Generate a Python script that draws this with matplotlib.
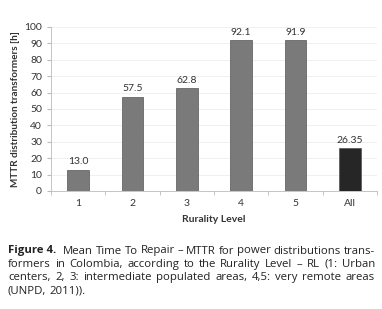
import matplotlib
matplotlib.use('Agg')
import matplotlib.pyplot as plt
import numpy as np

categories = ['1', '2', '3', '4', '5', 'All']
mttr = [13.0, 57.5, 62.8, 92.1, 91.9, 26.35]
value_labels = ['13.0', '57.5', '62.8', '92.1', '91.9', '26.35']
bar_colors = ['#7a7a7a'] * 5 + ['#262626']

caption_lines = [
    'Mean Time To Repair \u2013 MTTR for power distributions trans-',
    'formers in Colombia, according to the Rurality Level \u2013 RL (1: Urban',
    'centers, 2, 3: intermediate populated areas, 4,5: very remote areas',
    '(UNPD, 2011)).',
]

plt.rcParams['font.family'] = ['Lato', 'DejaVu Sans']

fig = plt.figure(figsize=(3.82, 3.09), dpi=100)
ax = fig.add_axes([51 / 382, 1 - 191 / 309, 326 / 382, 164 / 309])

x = np.arange(len(categories))
ax.bar(x, mttr, width=0.4, color=bar_colors, edgecolor='#555555', linewidth=0.5, zorder=3)
for xi, v, lab in zip(x, mttr, value_labels):
    ax.text(xi, v + 2, lab, ha='center', va='bottom', fontsize=7.5, color='#333333')

ax.set_xlim(-0.5, len(categories) - 0.5)
ax.set_ylim(0, 100)
ax.set_yticks(range(0, 101, 10))
ax.set_xticks(x)
ax.set_xticklabels(categories)
ax.set_xticks(np.arange(-0.5, len(categories), 1), minor=True)
ax.tick_params(axis='x', which='major', length=0, labelsize=7.5, colors='#333333', pad=6)
ax.tick_params(axis='x', which='minor', length=3, color='#bbbbbb')
ax.tick_params(axis='y', length=3, color='#bbbbbb', labelsize=7.5, colors='#333333')
ax.grid(axis='y', color='#eeeeee', linewidth=0.6, zorder=0)
for s in ['top', 'right']:
    ax.spines[s].set_visible(False)
for s in ['left', 'bottom']:
    ax.spines[s].set_color('#bbbbbb')
    ax.spines[s].set_linewidth(0.6)

ax.set_xlabel('Rurality Level', fontsize=7.5, fontweight='bold', color='#333333', labelpad=5)
ax.set_ylabel('MTTR distribution transformers [h]', fontsize=7.2, fontweight='bold', color='#333333', labelpad=3)

# caption, justified word by word
renderer = fig.canvas.get_renderer()
left, right = 8, 375
cap_font = ['Open Sans', 'DejaVu Sans']
extra = 4


def line_items(i, line):
    items = [('Figure 4.', 'bold')] if i == 0 else []
    return items + [(w, 'normal') for w in line.split(' ')]


def word_width(word, fw, size):
    t = fig.text(0, 0, word, fontsize=size, fontweight=fw, family=cap_font)
    w = t.get_window_extent(renderer).width
    t.remove()
    return w


# largest font size at which every full line still fits with near-normal spaces
size = 9.0
while size > 6:
    natural = size * 100 / 72 * 0.26
    ok = True
    for i, line in enumerate(caption_lines[:-1]):
        items = line_items(i, line)
        total = sum(word_width(w, fw, size) for w, fw in items)
        total += (extra if i == 0 else 0) + natural * 0.9 * (len(items) - 1)
        if total > right - left:
            ok = False
            break
    if ok:
        break
    size -= 0.1

natural = size * 100 / 72 * 0.26
for i, line in enumerate(caption_lines):
    y = 1 - (251 + i * 13.4) / 309
    items = line_items(i, line)
    widths = [word_width(w, fw, size) for w, fw in items]
    ex = extra if i == 0 else 0
    if i == len(caption_lines) - 1:
        gap = natural
    else:
        gap = (right - left - ex - sum(widths)) / (len(items) - 1)
    xpos = left
    for j, ((w, fw), wd) in enumerate(zip(items, widths)):
        fig.text(xpos / 382, y, w, fontsize=size, fontweight=fw, family=cap_font,
                 color='#222222', va='center', ha='left')
        xpos += wd + gap
        if j == 0:
            xpos += ex

fig.savefig('out.png', dpi=100)
